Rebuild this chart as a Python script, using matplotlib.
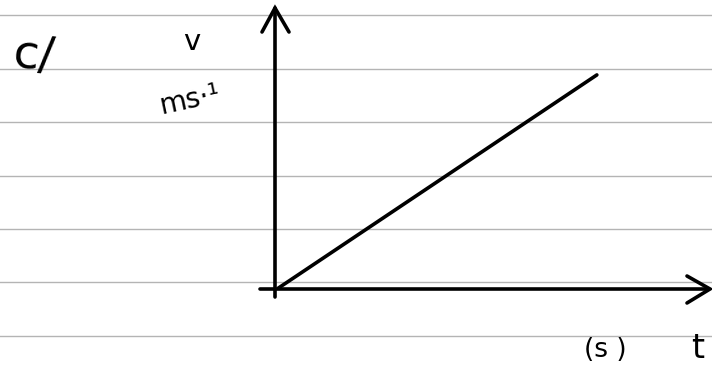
import matplotlib.pyplot as plt

# ruled notebook lines (pixel rows from the top)
rule_rows = [15, 69, 122, 176, 229, 282, 336]

# velocity-time line (uniform acceleration from rest)
t = [0, 10]
v = [0, 10]

# labels
part_label = "c/"
v_label = "v"
v_unit = "ms\u00b7\u00b9"
t_label = "t"
t_unit = "(s )"

W, H = 712, 372
fig = plt.figure(figsize=(W / 100, H / 100), dpi=100)

# background: paper with ruled lines, coordinates in pixels
bg = fig.add_axes([0, 0, 1, 1])
bg.set_xlim(0, W)
bg.set_ylim(H, 0)
bg.axis("off")
for r in rule_rows:
    bg.axhline(r, color="#b4b4b4", lw=1.0, zorder=0)

# graph axes, origin where the two drawn axes cross
ox, oy = 277, 289
ax = fig.add_axes([ox / W, (H - oy) / H, (W - ox) / W, oy / H])
ax.set_xlim(0, 13.6)
ax.set_ylim(0, 13.5)
ax.patch.set_alpha(0)
ax.axis("off")
ax.plot(t, v, color="black", lw=2.6, solid_capstyle="round", zorder=3)

# hand drawn axes with open arrow heads (in pixel coords of bg)
kw = dict(color="black", lw=2.6, solid_capstyle="round", zorder=3)
bg.plot([275, 275], [297, 8], **kw)
bg.plot([262, 275, 289], [32, 8, 32], solid_joinstyle="miter", **kw)
bg.plot([260, 709], [289, 289], **kw)
bg.plot([687, 710, 687], [276, 289, 303], solid_joinstyle="miter", **kw)

# handwritten labels
bg.text(34, 56, part_label, fontsize=34, ha="center", va="center",
        rotation=-5, family="DejaVu Sans")
bg.text(192, 42, v_label, fontsize=21, ha="center", va="center")
bg.text(190, 100, v_unit, fontsize=20, ha="center", va="center", rotation=12)
bg.text(605, 350, t_unit, fontsize=19, ha="center", va="center")
bg.text(698, 348, t_label, fontsize=24, ha="center", va="center")

fig.savefig("out.png", dpi=100, facecolor="white")
